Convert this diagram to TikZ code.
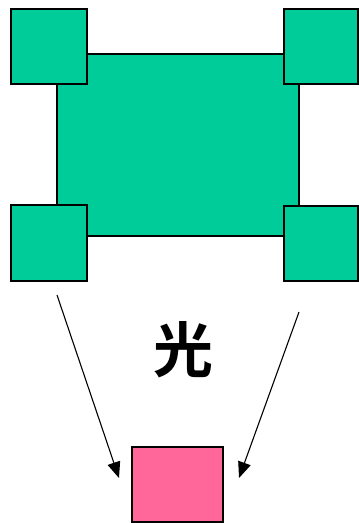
\documentclass[tikz,border=0pt]{standalone}
\usepackage{fontspec}
\newfontfamily\cjk{Noto Sans CJK JP Bold}
\usetikzlibrary{arrows.meta}
\definecolor{boxgreen}{RGB}{0,204,153}
\definecolor{boxpink}{RGB}{255,102,153}
\begin{document}
\begin{tikzpicture}[x=1pt,y=-1pt,
  greenbox/.style={draw=black,fill=boxgreen,line width=1.5pt},
  pinkbox/.style={draw=black,fill=boxpink,line width=1.2pt},
  lightarrow/.style={draw=black,line width=1.1pt,-{Triangle[length=16pt,width=13pt]}}]
\useasboundingbox (0,0) rectangle (359,523);
\draw[greenbox] (57,54) rectangle (299,236);
\draw[greenbox] (11,9) rectangle (87,84);
\draw[greenbox] (284,9) rectangle (358,84);
\draw[greenbox] (11,205) rectangle (87,281);
\draw[greenbox] (284,206) rectangle (358,281);
\draw[pinkbox] (132,447) rectangle (223,522);
\node[font=\cjk\fontsize{60}{60}\selectfont,inner sep=0pt] (light) at (183,350) {光};
\coordinate (la) at (57,295);
\coordinate (lb) at (119,478);
\coordinate (ra) at (299,312);
\coordinate (rb) at (239,478);
\draw[lightarrow] (la) -- (lb);
\draw[lightarrow] (ra) -- (rb);
\end{tikzpicture}
\end{document}
